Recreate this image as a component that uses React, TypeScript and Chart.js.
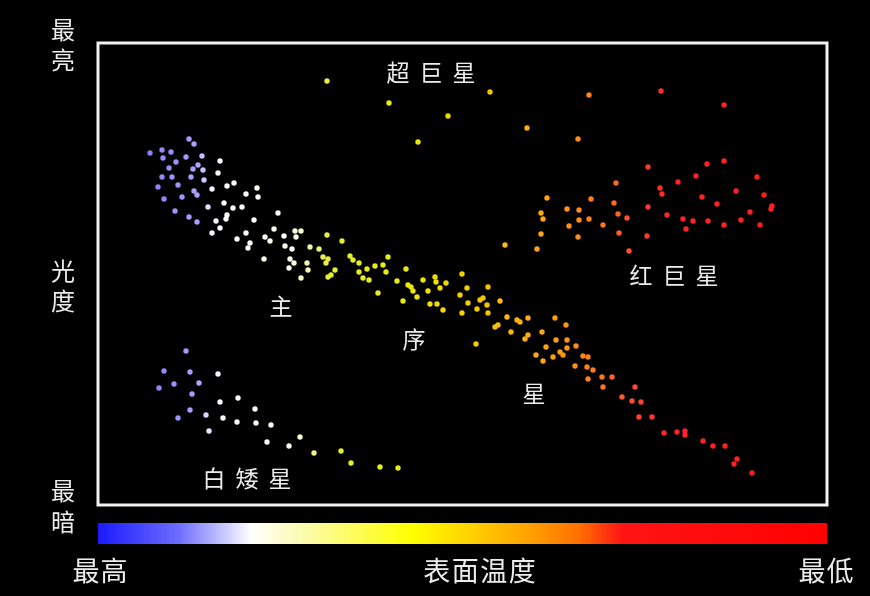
import React, { useEffect, useRef } from "react";
import { Chart, registerables } from "chart.js";
Chart.register(...registerables);

// x = surface-temperature index (0 = hottest … 729 = coolest)
// y = luminosity index (0 = dimmest … 462 = brightest)
const supergiants: [number, number][] = [
  [229, 424], [291, 402], [350, 389], [392, 413], [320, 363], [429, 377],
  [491, 410], [480, 366], [563, 414], [626, 400],
];

const mainSequenceHot: [number, number][] = [
  [52, 352], [64, 355], [73, 353], [91, 366], [96, 361], [65, 347], [78, 343],
  [88, 348], [104, 349], [71, 337], [100, 340], [95, 336], [105, 335], [64, 328],
  [74, 328], [93, 328], [106, 325], [80, 320], [60, 318], [96, 314], [99, 310],
  [84, 308], [66, 306], [77, 294], [91, 288], [99, 283],
  [122, 344], [120, 332], [129, 319], [136, 322], [114, 316], [148, 311], [159, 317],
  [160, 308], [110, 298], [126, 302], [135, 297], [144, 298], [180, 292], [118, 284],
  [128, 286], [129, 290], [156, 285], [122, 277], [114, 272], [148, 272], [139, 266],
  [176, 276], [167, 268], [172, 264], [186, 269], [197, 274], [203, 274], [152, 262],
  [150, 257], [187, 259], [194, 256], [198, 268], [166, 246], [192, 246], [196, 242],
  [191, 237], [210, 235], [203, 227],
];

const mainSequenceMid: [number, number][] = [
  [229, 270], [244, 264], [212, 258], [221, 256], [225, 248], [230, 246], [228, 242],
  [209, 242], [237, 235], [230, 228], [233, 230], [252, 249], [255, 245], [261, 242],
  [269, 236], [277, 239], [285, 240], [290, 248], [261, 233], [265, 227], [271, 225],
  [288, 233], [280, 212], [299, 224], [308, 236], [310, 220], [313, 218], [315, 214],
  [305, 204], [319, 208], [325, 225], [330, 214], [332, 201], [339, 201], [337, 228],
  [338, 223], [342, 217], [348, 222], [345, 195], [364, 231], [369, 217], [362, 210],
  [370, 202], [364, 192], [379, 196], [382, 205], [385, 207], [389, 200], [390, 218],
  [390, 192], [402, 204], [378, 161],
];

const mainSequenceCool: [number, number][] = [
  [409, 188], [400, 180], [397, 178], [413, 173], [419, 185], [422, 183], [430, 187],
  [427, 166], [430, 170], [444, 173], [457, 187], [468, 180], [438, 150], [448, 158],
  [455, 148], [458, 165], [462, 153], [465, 150], [469, 157], [469, 165], [478, 159],
  [477, 139], [445, 144], [485, 149], [490, 148], [489, 138], [495, 135], [490, 126],
  [504, 128], [514, 128], [505, 118], [537, 118], [524, 108], [534, 104], [543, 103],
  [541, 88], [554, 88], [566, 72], [579, 73], [587, 74], [587, 70], [605, 64],
  [615, 59], [627, 59], [639, 46], [636, 41], [654, 32],
];

const redGiants: [number, number][] = [
  [449, 307], [443, 292], [445, 286], [443, 271], [407, 260], [439, 256], [469, 296],
  [481, 295], [481, 285], [491, 286], [493, 306], [471, 279], [480, 268], [518, 322],
  [516, 302], [520, 291], [529, 287], [521, 272], [505, 280], [550, 338], [609, 341],
  [626, 344], [598, 329], [580, 323], [659, 328], [562, 317], [564, 311], [638, 314],
  [604, 308], [666, 310], [674, 299], [673, 296], [619, 301], [550, 298], [569, 290],
  [585, 286], [595, 284], [610, 284], [626, 280], [643, 285], [652, 293], [662, 280],
  [588, 276], [549, 269], [531, 254],
];

const whiteDwarfs: [number, number][] = [
  [88, 154], [66, 134], [92, 133], [120, 131], [76, 121], [101, 122], [61, 117],
  [94, 111], [122, 103], [140, 107], [157, 96], [92, 95], [80, 87], [108, 90],
  [125, 87], [139, 83], [158, 82], [173, 80], [111, 74], [169, 63], [191, 59],
  [202, 68], [216, 52], [243, 54], [253, 42], [282, 38], [300, 37],
];

const luminosityLabels = ["最亮", "光度", "最暗"];
const temperatureLabels = ["最高", "表面温度", "最低"];
const groupNames = ["超巨星", "红巨星", "主", "序", "星", "白矮星"];

// point colour as a function of the temperature index
const pointStops: [number, string][] = [
  [0, "#7565ff"], [55, "#8c82f6"], [100, "#aaa2ff"], [112, "#eeedff"], [130, "#ffffff"],
  [195, "#fafaea"], [212, "#f0f3a0"], [232, "#e4ee30"], [300, "#e8ec10"], [342, "#f2dc00"],
  [382, "#f5c800"], [422, "#ffb010"], [452, "#ffa010"], [482, "#ff8a18"], [512, "#ff6a28"],
  [542, "#ff4030"], [572, "#ff2424"], [729, "#ff1a1a"],
];

function hexToRgb(h: string) {
  const n = parseInt(h.slice(1), 16);
  return [(n >> 16) & 255, (n >> 8) & 255, n & 255];
}
function tempColor(x: number) {
  if (x <= pointStops[0][0]) return pointStops[0][1];
  for (let i = 1; i < pointStops.length; i++) {
    const [x1, c1] = pointStops[i];
    if (x <= x1) {
      const [x0, c0] = pointStops[i - 1];
      const t = (x - x0) / (x1 - x0);
      const a = hexToRgb(c0), b = hexToRgb(c1);
      const r = a.map((v, k) => Math.round(v + (b[k] - v) * t));
      return `rgb(${r[0]},${r[1]},${r[2]})`;
    }
  }
  return pointStops[pointStops.length - 1][1];
}

const toPts = (arr: [number, number][]) => arr.map(([x, y]) => ({ x, y }));

const FONT = '"Noto Sans CJK SC", "Noto Sans CJK JP", sans-serif';

const bgPlugin = {
  id: "bg",
  beforeDraw(chart: any) {
    const { ctx, width, height } = chart;
    ctx.save();
    ctx.fillStyle = "#000";
    ctx.fillRect(0, 0, width, height);
    ctx.restore();
  },
};

const overlayPlugin = {
  id: "overlay",
  afterDraw(chart: any) {
    const { ctx, chartArea: a, scales } = chart;
    const sx = scales.x, sy = scales.y;
    ctx.save();
    // frame
    ctx.strokeStyle = "#f2f2f2";
    ctx.lineWidth = 3;
    ctx.strokeRect(a.left, a.top, a.right - a.left, a.bottom - a.top);

    // colour bar
    const barTop = a.bottom + 18;
    const barH = 21;
    const g = ctx.createLinearGradient(a.left, 0, a.right, 0);
    const barStops: [number, string][] = [
      [0, "#1a1aff"], [0.11, "#6c6cff"], [0.21, "#ffffff"], [0.28, "#fbfbb0"],
      [0.43, "#ffff00"], [0.51, "#ffd200"], [0.59, "#ffa200"], [0.66, "#ff7000"],
      [0.705, "#ff2a10"], [0.72, "#ff1414"], [1, "#ff0000"],
    ];
    barStops.forEach(([p, c]) => g.addColorStop(p, c));
    ctx.fillStyle = g;
    ctx.fillRect(a.left, barTop, a.right - a.left, barH);

    ctx.fillStyle = "#ececec";
    ctx.textAlign = "center";
    ctx.textBaseline = "middle";

    const drawSpaced = (text: string, cx: number, cy: number, pitch: number, size: number) => {
      ctx.font = `${size}px ${FONT}`;
      const chars = Array.from(text);
      const start = cx - (pitch * (chars.length - 1)) / 2;
      chars.forEach((ch, i) => ctx.fillText(ch, start + i * pitch, cy));
    };

    // luminosity axis labels (vertical)
    const lx = a.left - 35;
    drawSpaced(luminosityLabels[0][0], lx, 30, 0, 24);
    drawSpaced(luminosityLabels[0][1], lx, 60, 0, 24);
    drawSpaced(luminosityLabels[1][0], lx, 271, 0, 24);
    drawSpaced(luminosityLabels[1][1], lx, 301, 0, 24);
    drawSpaced(luminosityLabels[2][0], lx, 491, 0, 24);
    drawSpaced(luminosityLabels[2][1], lx, 522, 0, 24);

    // temperature axis labels
    const ty = a.bottom + 66;
    drawSpaced(temperatureLabels[0], a.left + 2, ty, 28, 27);
    drawSpaced(temperatureLabels[1], (a.left + a.right) / 2 + 17, ty, 28.5, 27);
    drawSpaced(temperatureLabels[2], a.right - 1, ty, 28, 27);

    // group labels (placed in data units)
    const place: [number, number, number][] = [
      [333, 433, 33], [576, 230, 33], [183, 199, 0], [316, 166, 0], [436, 112, 0], [149, 27, 33],
    ];
    groupNames.forEach((name, i) => {
      const [x, y, pitch] = place[i];
      drawSpaced(name, sx.getPixelForValue(x), sy.getPixelForValue(y), pitch, 23);
    });
    ctx.restore();
  },
};

export default function App() {
  const ref = useRef<HTMLCanvasElement>(null);
  useEffect(() => {
    document.body.style.margin = "0";
    document.body.style.background = "#000";
    const common = {
      pointRadius: 2.7,
      pointBorderWidth: 0,
      pointHoverRadius: 2.7,
      pointBackgroundColor: (c: any) => tempColor(c.raw ? c.raw.x : 0),
      showLine: false,
    };
    const chart = new Chart(ref.current!, {
      type: "scatter",
      data: {
        datasets: [
          { label: "超巨星", data: toPts(supergiants), ...common },
          { label: "主序星", data: toPts(mainSequenceHot), ...common },
          { label: "主序星2", data: toPts(mainSequenceMid), ...common },
          { label: "主序星3", data: toPts(mainSequenceCool), ...common },
          { label: "红巨星", data: toPts(redGiants), ...common },
          { label: "白矮星", data: toPts(whiteDwarfs), ...common },
        ],
      } as any,
      options: {
        animation: false,
        responsive: false,
        maintainAspectRatio: false,
        layout: { padding: { left: 98, right: 43, top: 43, bottom: 91 } },
        scales: {
          x: { type: "linear", min: 0, max: 729, display: false },
          y: { type: "linear", min: 0, max: 462, display: false },
        },
        plugins: { legend: { display: false }, tooltip: { enabled: false } },
      } as any,
      plugins: [bgPlugin, overlayPlugin],
    });
    return () => chart.destroy();
  }, []);
  return (
    <div style={{ width: 870, height: 596, background: "#000" }}>
      <canvas ref={ref} width={870} height={596} style={{ display: "block" }} />
    </div>
  );
}
